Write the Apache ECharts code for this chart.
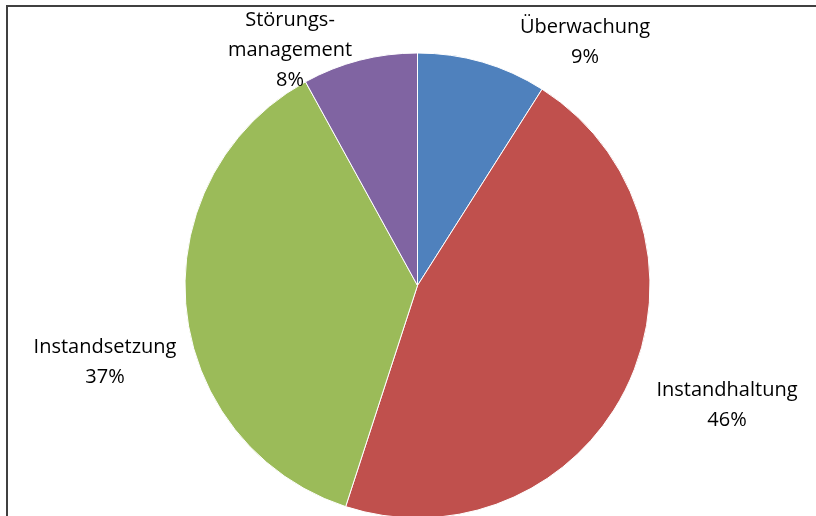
<!DOCTYPE html>
<html>
<head>
<meta charset="utf-8">
<script src="https://cdn.jsdelivr.net/npm/echarts@6/dist/echarts.min.js"></script>
<style>
html,body{margin:0;padding:0;background:#fff;}
#chart{width:816px;height:516px;}
</style>
</head>
<body>
<div id="chart"></div>
<script>
var categories = ['Überwachung', 'Instandhaltung', 'Instandsetzung', 'Störungs-\nmanagement'];
var values = [9, 46, 37, 8];
var colors = ['#4F81BD', '#C0504D', '#9BBB59', '#8064A2'];
var labelPos = [[585, 42], [727, 405], [105, 362], [290, 50]];

var chart = echarts.init(document.getElementById('chart'), null, {renderer: 'canvas'});
chart.setOption({
  animation: false,
  backgroundColor: '#fff',
  graphic: [{
    type: 'rect',
    shape: {x: 7, y: 6, width: 900, height: 600},
    style: {fill: 'none', stroke: '#404040', lineWidth: 2},
    silent: true
  }],
  series: [{
    type: 'pie',
    center: [417.5, 285.5],
    radius: 232.5,
    startAngle: 90,
    clockwise: true,
    data: categories.map(function (c, i) {
      return {name: c, value: values[i], itemStyle: {color: colors[i]}};
    }),
    itemStyle: {borderColor: '#fff', borderWidth: 1},
    label: {
      show: true,
      position: 'outside',
      formatter: '{b}\n{d}%',
      fontFamily: 'Open Sans',
      fontSize: 20,
      lineHeight: 30,
      color: '#000',
      align: 'center',
      overflow: 'none'
    },
    labelLine: {show: false},
    labelLayout: function (params) {
      var p = labelPos[params.dataIndex];
      return {x: p[0], y: p[1], align: 'center', verticalAlign: 'middle'};
    }
  }]
});
</script>
</body>
</html>
